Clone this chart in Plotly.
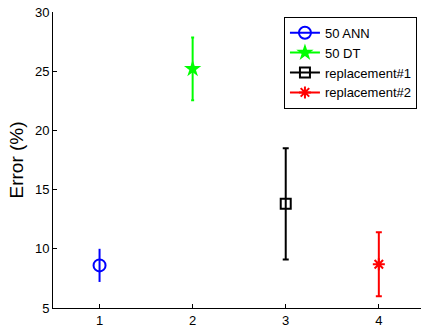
import plotly.graph_objects as go

# Mean error and spread for each method
methods = ["50 ANN", "50 DT", "replacement#1", "replacement#2"]
positions = [1, 2, 3, 4]
mean_error = [8.6, 25.2, 13.8, 8.7]
error_spread = [1.4, 2.65, 4.7, 2.7]

colors = ["#0000ff", "#00ff00", "#000000", "#ff0000"]
symbols = ["circle-open", "star", "square-open", "asterisk-open"]
marker_sizes = [12, 13, 10, 10]
cap_widths = [0, 1.5, 3, 3]

FONT = "Liberation Sans, Arial, sans-serif"

fig = go.Figure()
for i, name in enumerate(methods):
    fig.add_trace(go.Scatter(
        x=[positions[i]],
        y=[mean_error[i]],
        name=name,
        mode="lines+markers",
        line=dict(color=colors[i], width=2),
        marker=dict(symbol=symbols[i], size=marker_sizes[i], color=colors[i],
                    line=dict(color=colors[i], width=2 if i != 1 else 0)),
        error_y=dict(type="data", array=[error_spread[i]], visible=True,
                     color=colors[i], thickness=2, width=cap_widths[i]),
    ))

axis_font = dict(family=FONT, size=13, color="#000")
fig.update_layout(
    width=421, height=329,
    margin=dict(l=53, r=0, t=12, b=21),
    paper_bgcolor="white", plot_bgcolor="white",
    font=axis_font,
    showlegend=True,
    legend=dict(
        x=0.989, xanchor="right", y=0.984, yanchor="top",
        bordercolor="#000", borderwidth=1, bgcolor="white",
        font=dict(family=FONT, size=13, color="#000"),
        tracegroupgap=0, itemwidth=30,
    ),
)
fig.update_xaxes(
    range=[0.5, 4.453], tickvals=positions, ticktext=["1", "2", "3", "4"],
    showline=True, linecolor="#000", linewidth=1, mirror=False,
    ticks="inside", ticklen=4, tickcolor="#000", showgrid=False, zeroline=False,
    tickfont=axis_font,
)
fig.update_yaxes(
    range=[5, 30], tickvals=[5, 10, 15, 20, 25, 30],
    showline=True, linecolor="#000", linewidth=1, mirror=False,
    ticks="inside", ticklen=4, tickcolor="#000", showgrid=False, zeroline=False,
    tickfont=axis_font,
    title=dict(text="Error (%)", font=dict(family=FONT, size=19, color="#000"), standoff=6),
)

fig.write_html("out.html")
